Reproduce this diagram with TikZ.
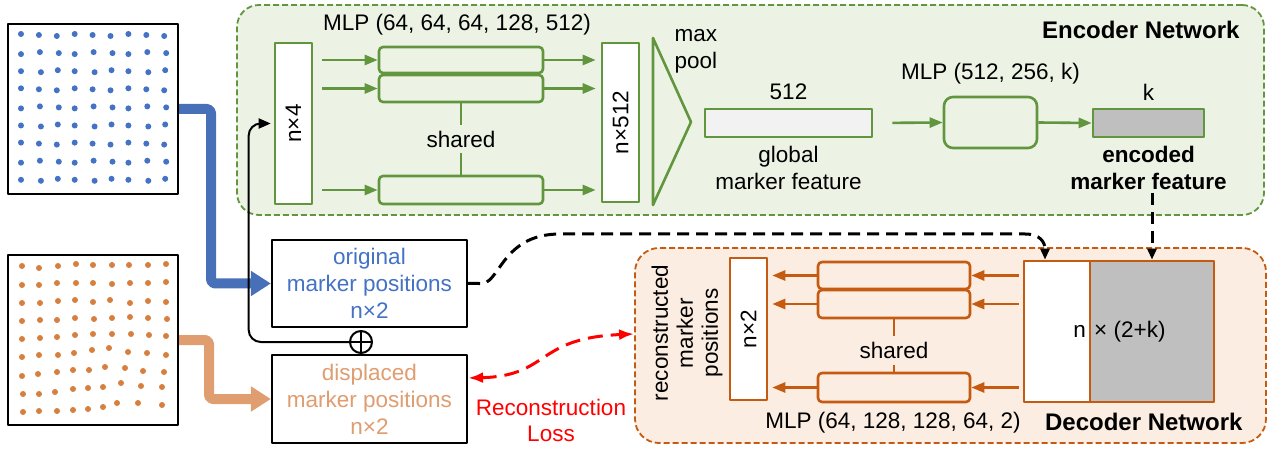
\documentclass[tikz,border=0pt]{standalone}
\usepackage{fontspec}
\setmainfont{Liberation Sans}
\usetikzlibrary{positioning,calc,arrows.meta}

\definecolor{encgreen}{RGB}{98,150,62}
\definecolor{encfill}{RGB}{236,243,229}
\definecolor{decorange}{RGB}{197,90,17}
\definecolor{decfill}{RGB}{252,237,226}
\definecolor{ptblue}{RGB}{68,114,196}
\definecolor{arrblue}{RGB}{72,112,184}
\definecolor{ptorange}{RGB}{214,127,62}
\definecolor{arrorange}{RGB}{223,157,112}
\definecolor{featgray}{RGB}{191,191,191}
\definecolor{barfill}{RGB}{242,242,242}

\tikzset{
  panel/.style={draw, line width=2pt, fill=white, minimum size=170pt, inner sep=0pt},
  posbox/.style={draw, line width=2.2pt, fill=white, minimum width=195pt, minimum height=87pt, align=center, inner sep=0pt},
  encframe/.style={draw=encgreen, fill=encfill, dash pattern=on 6pt off 3pt, line width=1.8pt, rounded corners=22pt, inner sep=0pt},
  decframe/.style={draw=decorange, fill=decfill, dash pattern=on 6pt off 3pt, line width=1.8pt, rounded corners=24pt, inner sep=0pt},
  gbox/.style={draw=encgreen, line width=2.6pt, fill=white, inner sep=0pt},
  gmlp/.style={draw=encgreen, line width=2.6pt, rounded corners=4pt, minimum width=164pt, minimum height=26pt, inner sep=0pt},
  gline/.style={draw=encgreen, line width=2.6pt},
  garrow/.style={gline, -{Triangle[length=13pt,width=10pt]}},
  obox/.style={draw=decorange, line width=2.6pt, fill=white, inner sep=0pt},
  ombox/.style={draw=decorange, line width=2.6pt, rounded corners=4pt, minimum width=152pt, inner sep=0pt},
  oline/.style={draw=decorange, line width=2.6pt},
  oarrow/.style={oline, -{Triangle[length=13pt,width=10pt]}},
  thickarrow/.style={line width=10pt, rounded corners=4pt, -{Triangle[length=20pt,width=24pt]}},
  blkdash/.style={line width=3pt, dash pattern=on 12pt off 7pt, -{Triangle[length=11pt,width=9pt]}},
  lossarrow/.style={red, line width=3pt, dash pattern=on 15pt off 8pt, {Latex[length=15pt,width=11pt]}-{Latex[length=15pt,width=11pt]}},
  boldtxt/.style={font=\fontsize{22.5}{27}\selectfont\bfseries},
  bigbold/.style={font=\fontsize{24}{28}\selectfont\bfseries}
}

\begin{document}
\begin{tikzpicture}[x=1pt, y=-1pt, node distance=4pt, font=\fontsize{22.5}{27}\selectfont, line join=round]
  \useasboundingbox (0,0) rectangle (1270,449);

  % network frames
  \node[encframe, minimum width=1027pt, minimum height=210pt] (encnet) at (750.5,110) {};
  \node[decframe, minimum width=631pt, minimum height=195pt] (decnet) at (950.5,345.5) {};

  % marker panels
  \node[panel] (blu) at (93,109) {};
  \node[panel] (org) at (93,340) {};
  \foreach \i in {0,...,8}
    \foreach \j in {0,...,8}
      \fill[ptblue] ({22+17.9*\i+mod(\i*\j,3)-1}, {35+18.1*\j+mod(\i+2*\j,3)-1}) circle (3pt);
  \foreach \p in {(22,266),(39,268),(58,266),(76,264),(93,265),(112,265),(129,265),(148,265),(166,264),
                  (22,285),(39,285),(57,283),(76,283),(93,283),(112,284),(130,283),(148,283),(166,282),
                  (22,303),(40,303),(58,301),(75,300),(93,302),(110,300),(130,303),(148,301),(166,302),
                  (22,321),(40,320),(57,320),(75,318),(94,319),(112,318),(130,317),(148,318),(167,319),
                  (22,339),(40,338),(57,337),(75,335),(93,334),(112,334),(131,334),(149,335),(166,336),
                  (22,357),(39,355),(58,355),(74,353),(92,350),(109,348),(128,352),(147,353),(166,355),
                  (22,376),(38,374),(57,372),(73,370),(89,370),(105,367),(125,368),(143,371),(164,372),
                  (23,394),(39,394),(55,392),(73,389),(88,388),(103,387),(121,383),(141,386),(162,387),
                  (23,412),(39,411),(57,411),(73,410),(88,409),(103,407),(117,403),(138,403),(162,405)}
    \fill[ptorange] \p circle (3pt);

  % position boxes
  \node[posbox, text=ptblue] (orig) at (369.5,283.5) {original\\marker positions\\n×2};
  \node[posbox, text=arrorange, minimum height=88pt] (disp) at (369.5,399) {displaced\\marker positions\\n×2};
  \node[circle, draw, line width=2pt, minimum size=22pt, inner sep=0pt] (plus) at (361,342) {};
  \draw[line width=2pt] (plus.north) -- (plus.south) (plus.west) -- (plus.east);

  \draw[thickarrow, draw=arrblue] (blu.east) -- ++(32,0) |- (orig.west);
  \draw[thickarrow, draw=arrorange] (org.east) -- ++(30,0) |- (disp.west);

  % encoder
  \node[gbox, minimum width=37pt, minimum height=161pt] (n4) at (293.5,123.5) {};
  \node[rotate=90] at (n4) {n×4};
  \node[gmlp] (e1) at (461,60) {};
  \node[gmlp, minimum height=27pt] (e2) at (461,88.5) {};
  \node[gmlp, minimum height=28pt] (e3) at (461,190) {};
  \node[gbox, minimum width=37pt, minimum height=159pt] (n512) at (620.5,122.5) {};
  \node[rotate=90] at (n512) {n×512};
  \node at (457,25) {MLP (64, 64, 64, 128, 512)};
  \foreach \b in {e1,e2,e3} {
    \draw[garrow, shorten <=9pt] (n4.east |- \b.west) -- (\b.west);
    \draw[garrow, shorten >=5pt] (\b.east) -- (n512.west |- \b.east);
  }
  \draw[gline] (e2.south) -- (e3.north) node[midway, fill=encfill, inner sep=6pt] {shared};

  \draw[gline, fill=encfill] (653,38) -- (691,122) -- (653,205) -- cycle;
  \node[anchor=west, align=left] at (671,51) {max\\pool};

  \node[gbox, fill=barfill, minimum width=167pt, minimum height=28pt] (gbar) at (788.5,123) {};
  \node[above=of gbar] {512};
  \node[below=of gbar, align=center] {global\\marker feature};
  \node[gmlp, rounded corners=9pt, minimum width=93pt, minimum height=51pt] (mk) at (990.5,122.5) {};
  \node[above=8pt of mk] {MLP (512, 256, k)};
  \draw[garrow, shorten <=19pt] (gbar.east) -- (mk.west);
  \node[gbox, fill=featgray, minimum width=111pt, minimum height=28pt] (kbar) at (1148.5,123) {};
  \draw[garrow] (mk.east) -- (kbar.west);
  \node[above=of kbar] {k};
  \node[below=of kbar, align=center, boldtxt] (encfeat) {encoded\\marker feature};
  \node[bigbold, anchor=east] at (1243,30) {Encoder Network};

  % decoder
  \node[obox, minimum width=66pt, minimum height=141pt] (dn) at (1057,331.5) {};
  \node[obox, fill=featgray, minimum width=124pt, minimum height=141pt] (dk) at (1152,331.5) {};
  \node[anchor=east] at ([xshift=-2pt]dn.east) {n};
  \node[anchor=west] at ([xshift=2pt]dk.west) {× (2+k)};
  \node[ombox, minimum height=27pt] (d1) at (894,275.5) {};
  \node[ombox, minimum height=28pt] (d2) at (894,304) {};
  \node[ombox, minimum height=29pt] (d3) at (894,387.5) {};
  \node[obox, minimum width=37pt, minimum height=142pt] (n2) at (748.5,329) {};
  \node[rotate=90] at (n2) {n×2};
  \foreach \b in {d1,d2,d3} {
    \draw[oarrow, shorten <=4pt] (dn.west |- \b.east) -- (\b.east);
    \draw[oarrow, shorten >=4pt] (\b.west) -- (n2.east |- \b.west);
  }
  \draw[oline] (d2.south) -- (d3.north) node[pos=0.6, fill=decfill, inner sep=6pt] {shared};
  \node[rotate=90, align=center, font=\fontsize{22.5}{25}\selectfont] at (687,333) {reconstructed\\marker\\positions};
  \node at (893,423) {MLP (64, 128, 128, 64, 2)};
  \node[bigbold, anchor=east] at (1246,422) {Decoder Network};

  % connections
  \draw[blkdash] (orig.east) -- ++(11,0) .. controls (500,287) and (500,234) .. (560,234)
    -- (1025,234) .. controls (1040,234) and (1045,242) .. ([xshift=-12pt]dn.north);
  \draw[blkdash] (dk.north |- encfeat.south) -- (dk.north);
  \draw[-{Triangle[length=12pt,width=10pt]}, line width=2pt, rounded corners=12pt, shorten >=3pt]
    (plus.west) -| ([xshift=-25pt]n4.west) -- (n4.west);
  \draw[lossarrow] ([yshift=21pt]disp.east) .. controls (550,376) and (535,338) .. ([yshift=11.5pt]decnet.west);
  \node[text=red, align=center, font=\fontsize{22.5}{26}\selectfont] at (551,420) {Reconstruction\\Loss};
\end{tikzpicture}
\end{document}
